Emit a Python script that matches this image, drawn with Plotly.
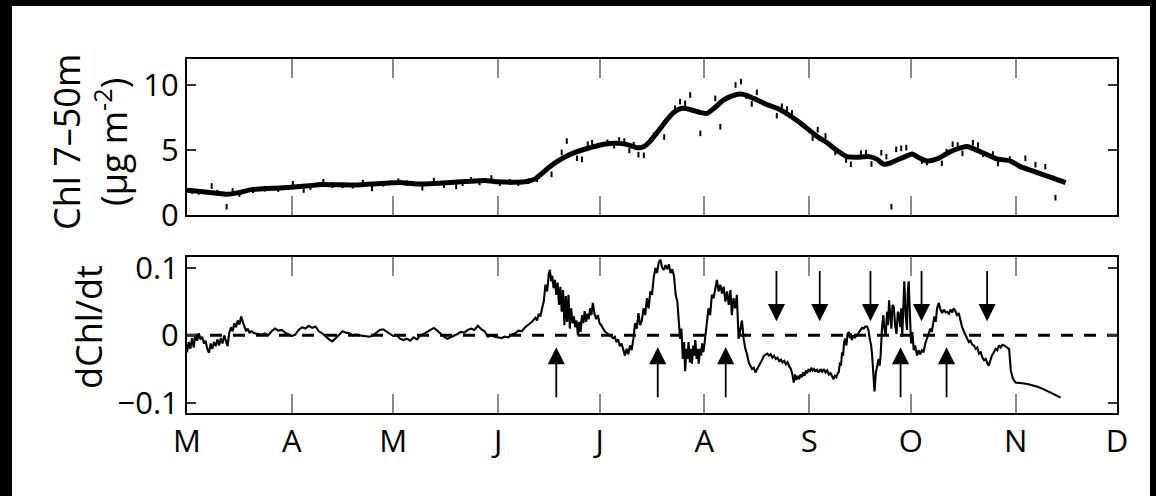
import plotly.graph_objects as go

# ---- time axis: days since 1 March, month initials at month starts ----
month_days = [0, 31, 61, 92, 122, 153, 184, 214, 245, 275]
month_labels = ["M", "A", "M", "J", "J", "A", "S", "O", "N", "D"]

# ---- Chl 7-50 m: smoothed series ----
chl_day = [0, 4, 8, 12, 15, 19, 25, 31, 36, 40, 45, 50, 55, 60, 63, 68, 73, 78, 84, 88,
           92, 97, 100.5, 103, 105, 107, 109.4, 112, 115.3, 118.5, 122.2, 125, 128, 130.5,
           133, 135, 137, 139.5, 141.9, 144, 146.4, 149, 151.5, 153.8, 156, 158.7, 161,
           163.6, 165.5, 167.5, 171, 174.5, 177, 179.4, 182, 184.3, 186.8, 189.3, 192,
           195.2, 198, 201.6, 204, 206, 208, 210, 212, 214.4, 216.5, 218.8, 221.8, 223.5,
           225.7, 228, 230.7, 232.5, 234.6, 237, 239.5, 243.5, 246.4, 250, 253.3, 256.5,
           259.8]
chl_smooth = [1.90, 1.80, 1.70, 1.59, 1.70, 1.95, 2.05, 2.13, 2.25, 2.35, 2.32, 2.31, 2.38,
              2.47, 2.50, 2.38, 2.42, 2.50, 2.60, 2.66, 2.55, 2.52, 2.58, 2.78, 3.20, 3.65,
              4.10, 4.50, 4.87, 5.12, 5.38, 5.50, 5.51, 5.40, 5.18, 5.25, 5.70, 6.50, 7.31,
              7.90, 8.21, 8.10, 7.90, 7.82, 8.25, 8.85, 9.15, 9.31, 9.20, 8.97, 8.55, 8.21,
              7.85, 7.44, 6.95, 6.46, 5.95, 5.56, 5.00, 4.49, 4.45, 4.49, 4.30, 3.90, 4.00,
              4.23, 4.45, 4.69, 4.40, 4.15, 4.31, 4.55, 4.87, 5.10, 5.26, 5.10, 4.87, 4.60,
              4.31, 4.15, 3.72, 3.40, 3.08, 2.80, 2.49]

# ---- Chl 7-50 m: individual observations ----
obs_day = [1.5, 3.5, 7.3, 9, 11.7, 13.5, 15.5, 19.5, 23, 27, 31.3, 34.5, 36.5, 40.3, 43, 46,
           49, 52, 54.7, 58, 62.5, 65, 69.6, 73, 76, 79.6, 81.5, 84, 86.5, 90, 92.5, 95.5,
           98, 101, 103.5,
           107.8, 110.8, 112.3, 115.3, 116.8, 118.5, 119.8, 124.3, 126.3, 127.8, 129.3,
           130.8, 132.1, 133.5, 135.1, 138.1, 141.1, 144.3, 145.8, 147.3, 148.8, 151.8,
           156.2, 157.7, 162.2, 163.8, 165.4, 167.0, 168.5, 174.4, 175.9, 177.4, 178.9,
           185.0, 186.5,
           188.8, 191.7, 194.9, 196.3, 199.3, 200.8, 202.4, 205.3, 206.8, 208.3, 209.7,
           211.2, 212.7, 217.3, 218.8, 223.2, 224.6, 226.4, 227.9, 229.3, 232.4, 233.9,
           235.4, 238.3, 239.8, 243.3, 247.9, 250.9, 253.8, 256.8]
obs_chl = [1.85, 1.78, 2.23, 1.72, 0.64, 1.85, 1.62, 1.90, 2.02, 2.00, 2.40, 1.92, 2.15, 2.56,
           2.30, 2.28, 2.25, 2.49, 2.05, 2.40, 2.60, 2.45, 2.10, 2.64, 2.30, 2.20, 2.45, 2.70,
           2.50, 2.85, 2.45, 2.55, 2.45, 2.60, 2.75,
           3.13, 4.82, 5.69, 4.36, 4.28, 5.44, 5.56, 5.59, 5.33, 5.77, 5.69, 4.97, 5.41, 4.64,
           4.59, 6.13, 6.00, 8.21, 8.72, 8.59, 9.23, 6.28, 8.97, 6.79, 10.00, 10.26, 9.15,
           8.54, 9.44, 7.64, 8.36, 8.15, 7.85, 5.92, 6.56,
           6.08, 4.82, 4.23, 3.90, 4.74, 4.79, 3.92, 4.79, 4.49, 0.64, 5.05, 5.13, 5.18, 4.15,
           4.05, 3.97, 4.87, 5.44, 5.38, 4.74, 5.56, 5.38, 4.67, 4.69, 3.97, 4.31, 4.36, 3.87,
           3.72, 1.33]

# ---- dChl/dt ----
rate_day = [
    0, 0.5, 1, 1.5, 2, 2.5, 3, 3.5, 4, 4.5, 5, 5.5, 6, 6.5, 7, 7.5, 8, 8.5, 9, 9.5, 10,
    10.5, 11, 11.5, 12, 12.5, 13, 13.5, 14, 14.5, 15, 15.5, 16, 16.5, 17, 17.5, 18, 18.5,
    19, 20,
    21, 22, 23, 24, 25, 26, 27, 28, 29, 30, 31, 32, 33, 34, 35, 36, 37, 38, 39, 40, 41,
    42, 43, 44, 45, 46, 47, 48, 49, 50, 51, 52, 53, 54, 55, 56, 57, 58, 59, 60, 61, 62,
    63, 64, 65, 66, 67, 68, 69, 70, 71, 72, 73, 74, 75, 76, 77, 78, 79, 80, 81, 82, 83,
    84, 85, 86, 87, 88, 89, 90, 91, 92,
    93, 94, 95, 96, 97, 98, 99, 100, 101, 102, 103, 103.5, 104, 104.5, 105, 105.5, 106,
    106.5, 107, 107.3, 107.7, 108, 108.4, 108.8, 109.2, 109.6, 110, 110.4, 110.8, 111.2,
    111.6, 112, 112.4, 112.8, 113.2, 113.6, 114, 114.4, 114.8, 115.2, 115.6, 116, 116.4,
    116.8, 117.2, 117.6, 118, 118.4, 118.8, 119.2, 119.6, 120, 120.5, 121, 121.5, 122,
    122.5, 123, 123.5, 124, 125,
    126, 126.5, 127, 127.5, 128, 128.5, 129, 129.5, 130, 130.5, 131, 131.5, 132, 132.5,
    133, 133.5, 134, 134.5, 135, 135.5, 136, 136.5, 137, 137.5, 138, 138.5, 139, 139.5,
    140, 140.5, 141, 141.5, 142, 142.5, 143, 143.5, 144, 144.5, 145, 145.4, 145.8, 146.2,
    146.6,
    147, 147.3, 147.7, 148, 148.3, 148.7, 149, 149.3, 149.7, 150, 150.3, 150.7, 151,
    151.3, 151.7, 152, 152.3, 152.7, 153.2, 153.7, 154.2, 154.7, 155.2, 155.7, 156.2,
    156.7, 157.2, 157.7, 158.2, 158.7, 159.2, 159.7, 160.2, 160.7, 161.1, 161.6, 162.1,
    162.6, 163.1, 163.6, 164.1, 164.6, 165.1,
    165.6, 166.1, 166.6, 167.1, 167.6, 168.1, 168.6, 169.1, 169.6, 170.1, 170.6, 171.1,
    171.6, 172.1, 172.6, 173.1, 173.6, 174.1, 174.6, 175.1, 175.6, 176.1, 176.6, 177.1,
    177.6, 178.1, 178.6, 179.1, 179.4, 179.8, 180.2, 180.6, 181.0, 181.4, 181.8, 182.2,
    182.6, 183.0, 183.4, 183.8, 184.2, 184.6, 185, 185.4, 185.8, 186.2, 186.8, 187.3,
    187.8, 188.3, 188.8, 189.3, 189.8, 190.3, 190.8, 191.2, 191.6, 192.0, 192.4, 192.7,
    193.1, 193.4, 193.7, 194, 194.3, 194.7, 195, 195.3, 195.7, 196, 196.3, 196.6, 197,
    197.5, 198.1, 198.6, 199.1, 199.6, 200.1, 200.6, 201.1, 201.5, 201.9, 202.3, 202.6,
    203, 203.3, 203.7, 204.1, 204.5, 204.8, 205.1, 205.5, 205.9, 206.2, 206.6,
    207, 207.3, 207.6, 208, 208.3, 208.6, 209, 209.4, 209.8, 210.2, 210.5, 210.9, 211.2,
    211.5, 211.8, 212.1, 212.5, 212.9, 213.1, 213.4, 213.7, 214.1, 214.5, 214.9,
    215.3, 215.9, 216.3, 216.8, 217.3, 217.8, 218.3, 218.8, 219.3, 219.8, 220.2, 220.6,
    221, 221.4, 221.8, 222.3, 222.8, 223.3, 223.8, 224.3, 224.8, 225.3, 225.8, 226.3,
    226.7, 227.2, 227.7, 228.2, 228.7, 229.2, 229.8, 230.3, 230.8, 231.2, 231.7, 232.2,
    232.7, 233.2, 233.7, 234.2, 234.7, 235.2, 235.7, 236.2, 236.7, 237.1, 237.5, 238,
    238.6, 239.1, 239.6, 240.1, 240.6, 241.1, 241.6, 242.1, 242.6, 243.1,
    243.6, 244.2, 245, 246, 247, 248.5, 250, 251.5, 253.4, 255, 256.7, 258.3]
rate_val = [
    -0.025, -0.010, -0.020, -0.004, -0.018, 0.002, -0.008, 0.003, -0.006, -0.002, -0.012,
    -0.008, -0.020, -0.026, -0.012, -0.020, -0.010, -0.016, -0.006, -0.015, -0.004, -0.012,
    0.000, -0.010, -0.016, 0.004, 0.012, 0.006, 0.018, 0.012, 0.022, 0.016, 0.028, 0.020,
    0.012, 0.006, 0.010, 0.004, 0.006, 0.003,
    0.002, 0.001, 0.003, 0.000, 0.006, 0.010, 0.007, 0.008, 0.004, 0.002, -0.001, 0.001,
    0.008, 0.012, 0.010, 0.014, 0.011, 0.013, 0.006, 0.003, -0.002, -0.006, -0.009,
    -0.004, 0.002, 0.006, 0.004, 0.003, 0.000, 0.001, 0.000, -0.001, -0.002, -0.002,
    0.000, 0.004, 0.008, 0.009, 0.006, 0.002, -0.001, 0.000, -0.005, -0.007, -0.005,
    -0.008, -0.003, -0.006, 0.000, 0.002, 0.005, 0.009, 0.011, 0.007, 0.002, -0.002,
    -0.005, -0.003, 0.000, 0.002, 0.005, 0.004, 0.008, 0.010, 0.008, 0.014, 0.009, 0.006,
    -0.002, 0.000, -0.002, -0.003,
    -0.004, -0.002, -0.003, 0.001, 0.003, 0.007, 0.006, 0.012, 0.016, 0.020, 0.026, 0.022,
    0.032, 0.028, 0.040, 0.050, 0.075, 0.065, 0.092, 0.097, 0.080, 0.088, 0.070, 0.082,
    0.060, 0.078, 0.045, 0.072, 0.035, 0.067, 0.015, 0.058, 0.020, 0.060, 0.010, 0.040,
    0.018, 0.028, 0.012, 0.022, 0.000, 0.020, 0.005, 0.030, 0.018, 0.036, 0.020, 0.032,
    0.024, 0.040, 0.030, 0.048, 0.032, 0.024, 0.030, 0.018, 0.015, 0.010, 0.006, 0.004,
    0.000,
    -0.004, -0.002, -0.010, -0.006, -0.016, -0.012, -0.022, -0.030, -0.020, -0.028,
    -0.015, -0.022, -0.005, 0.018, 0.010, 0.033, 0.015, 0.022, 0.040, 0.030, 0.055, 0.040,
    0.065, 0.060, 0.085, 0.100, 0.092, 0.108, 0.112, 0.100, 0.097, 0.104, 0.098, 0.105,
    0.092, 0.098, 0.088, 0.060, 0.050, 0.020, -0.005, 0.010, -0.035,
    -0.010, -0.053, -0.020, -0.035, -0.010, -0.040, -0.020, -0.042, -0.015, -0.030,
    -0.007, -0.035, -0.020, -0.042, -0.020, -0.030, -0.012, -0.025, -0.005, 0.020, 0.040,
    0.030, 0.060, 0.055, 0.070, 0.082, 0.065, 0.075, 0.062, 0.072, 0.050, 0.065, 0.045,
    0.067, 0.030, 0.055, 0.040, 0.060, -0.005, 0.010, 0.022, -0.005, -0.020,
    -0.028, -0.040, -0.045, -0.050, -0.048, -0.055, -0.050, -0.046, -0.040, -0.036,
    -0.030, -0.028, -0.027, -0.030, -0.028, -0.033, -0.030, -0.035, -0.033, -0.038,
    -0.036, -0.040, -0.038, -0.043, -0.040, -0.046, -0.050, -0.060, -0.070, -0.058,
    -0.066, -0.060, -0.065, -0.058, -0.062, -0.055, -0.060, -0.052, -0.056, -0.050,
    -0.054, -0.048, -0.052, -0.050, -0.054, -0.050, -0.055, -0.050, -0.054, -0.050,
    -0.055, -0.052, -0.058, -0.056, -0.062, -0.065, -0.060, -0.062, -0.056, -0.055,
    -0.040, -0.045, -0.025, -0.030, -0.010, -0.005, -0.015, 0.002, 0.005, -0.004, 0.003,
    -0.007, 0.000, -0.003, 0.000, 0.004, 0.006, 0.011, 0.010, 0.013, 0.013, 0.008, -0.005,
    -0.015, -0.030, -0.060, -0.083, -0.055, -0.045, -0.035, -0.045, -0.030, 0.010, 0.030,
    0.010, 0.000,
    0.035, 0.015, 0.052, 0.020, 0.010, 0.045, 0.042, 0.015, 0.002, 0.035, 0.032, 0.012,
    0.040, -0.002, 0.050, 0.080, 0.030, 0.008, 0.060, 0.080, 0.040, -0.012, 0.005, -0.022,
    -0.015, -0.030, -0.022, -0.028, -0.022, -0.025, -0.012, -0.005, 0.002, 0.010, 0.005,
    0.020, 0.028, 0.020, 0.040, 0.048, 0.038, 0.033, 0.038, 0.034, 0.035, 0.032, 0.038,
    0.034, 0.040, 0.036, 0.030, 0.033, 0.020, 0.012, 0.005, 0.000, -0.006, -0.010, -0.008,
    -0.014, -0.015, -0.020, -0.018, -0.027, -0.025, -0.033, -0.037, -0.035, -0.042,
    -0.045, -0.038, -0.030, -0.025, -0.020, -0.022, -0.015, -0.018, -0.014, -0.015,
    -0.017, -0.018, -0.020,
    -0.052, -0.064, -0.070, -0.071, -0.071, -0.072, -0.074, -0.076, -0.080, -0.084,
    -0.088, -0.092]

# ---- event arrows on the rate panel ----
up_arrow_day = [109.2, 139.2, 159.3, 211.0, 224.6]
down_arrow_day = [174.3, 187.1, 202.1, 217.2, 236.6]
up_tip, up_tail = -0.0175, -0.094
down_tip, down_tail = 0.021, 0.0975

W, H = 1156, 496
FONT = "Open Sans"


def px_x(p):
    return p / W


def px_y(p):
    return 1 - p / H


fig = go.Figure()

fig.add_trace(go.Scatter(
    x=obs_day, y=obs_chl, mode="markers", xaxis="x", yaxis="y",
    marker=dict(symbol="line-ns", size=4, color="black",
                line=dict(width=2, color="black")),
    showlegend=False, hoverinfo="skip"))
fig.add_trace(go.Scatter(
    x=chl_day, y=chl_smooth, mode="lines", xaxis="x", yaxis="y",
    line=dict(color="black", width=5, shape="spline", smoothing=0.6),
    showlegend=False, hoverinfo="skip"))

fig.add_trace(go.Scatter(
    x=[month_days[0], month_days[-1]], y=[0, 0], mode="lines", xaxis="x2", yaxis="y2",
    line=dict(color="black", width=3, dash="12px,11px"),
    showlegend=False, hoverinfo="skip"))
fig.add_trace(go.Scatter(
    x=rate_day, y=rate_val, mode="lines", xaxis="x2", yaxis="y2",
    line=dict(color="black", width=2.1),
    showlegend=False, hoverinfo="skip"))

annotations = []
for d in up_arrow_day:
    annotations.append(dict(
        x=d, y=up_tip, ax=d, ay=up_tail, xref="x2", yref="y2", axref="x2", ayref="y2",
        text="", showarrow=True, arrowhead=2, arrowsize=1.9, arrowwidth=1.8,
        arrowcolor="black", standoff=0))
for d in down_arrow_day:
    annotations.append(dict(
        x=d, y=down_tip, ax=d, ay=down_tail, xref="x2", yref="y2", axref="x2", ayref="y2",
        text="", showarrow=True, arrowhead=2, arrowsize=1.9, arrowwidth=1.8,
        arrowcolor="black", standoff=0))

annotations.append(dict(
    text="Chl 7\u201350m<br>(\u03bcg m<sup>-2</sup>)", textangle=-90,
    x=px_x(90), y=px_y(142), xref="paper", yref="paper", showarrow=False,
    xanchor="center", yanchor="middle", font=dict(family=FONT, size=36, color="black")))
annotations.append(dict(
    text="dChl/dt", textangle=-90,
    x=px_x(88), y=px_y(327), xref="paper", yref="paper", showarrow=False,
    xanchor="center", yanchor="middle", font=dict(family=FONT, size=36, color="black")))

x_common = dict(
    range=[month_days[0], month_days[-1]], tickmode="array", tickvals=month_days,
    ticktext=month_labels, ticks="inside", ticklen=19, tickwidth=1.5,
    tickcolor="#8a8a8a", showline=True, linecolor="black", linewidth=2, mirror="ticks",
    showgrid=False, zeroline=False, automargin=False,
    tickfont=dict(family=FONT, size=31, color="black"))
y_common = dict(
    ticks="inside", ticklen=9, tickwidth=1.5, tickcolor="#333333", showline=True,
    linecolor="black", linewidth=2, mirror="ticks", showgrid=False, zeroline=False,
    automargin=False, tickfont=dict(family=FONT, size=31, color="black"))

fig.update_layout(
    width=W, height=H, margin=dict(l=0, r=0, t=0, b=0),
    paper_bgcolor="black", plot_bgcolor="white", hovermode=False,
    xaxis=dict(x_common, domain=[px_x(187), px_x(1117)], anchor="y",
               showticklabels=False),
    yaxis=dict(y_common, domain=[px_y(215), px_y(59)], anchor="x", range=[0, 12],
               tickvals=[0, 5, 10], ticktext=["0", "5", "10"]),
    xaxis2=dict(x_common, domain=[px_x(187), px_x(1117)], anchor="y2"),
    yaxis2=dict(y_common, domain=[px_y(413), px_y(257)], anchor="x2",
                range=[-0.115, 0.116], tickvals=[-0.1, 0, 0.1],
                ticktext=["\u22120.1", "0", "0.1"]),
    shapes=[dict(type="rect", xref="paper", yref="paper", x0=px_x(12), x1=px_x(1150),
                 y0=0, y1=px_y(6), fillcolor="white", line=dict(width=0), layer="below")],
    annotations=annotations,
)

fig.write_html("out.html", config={"displayModeBar": False})
